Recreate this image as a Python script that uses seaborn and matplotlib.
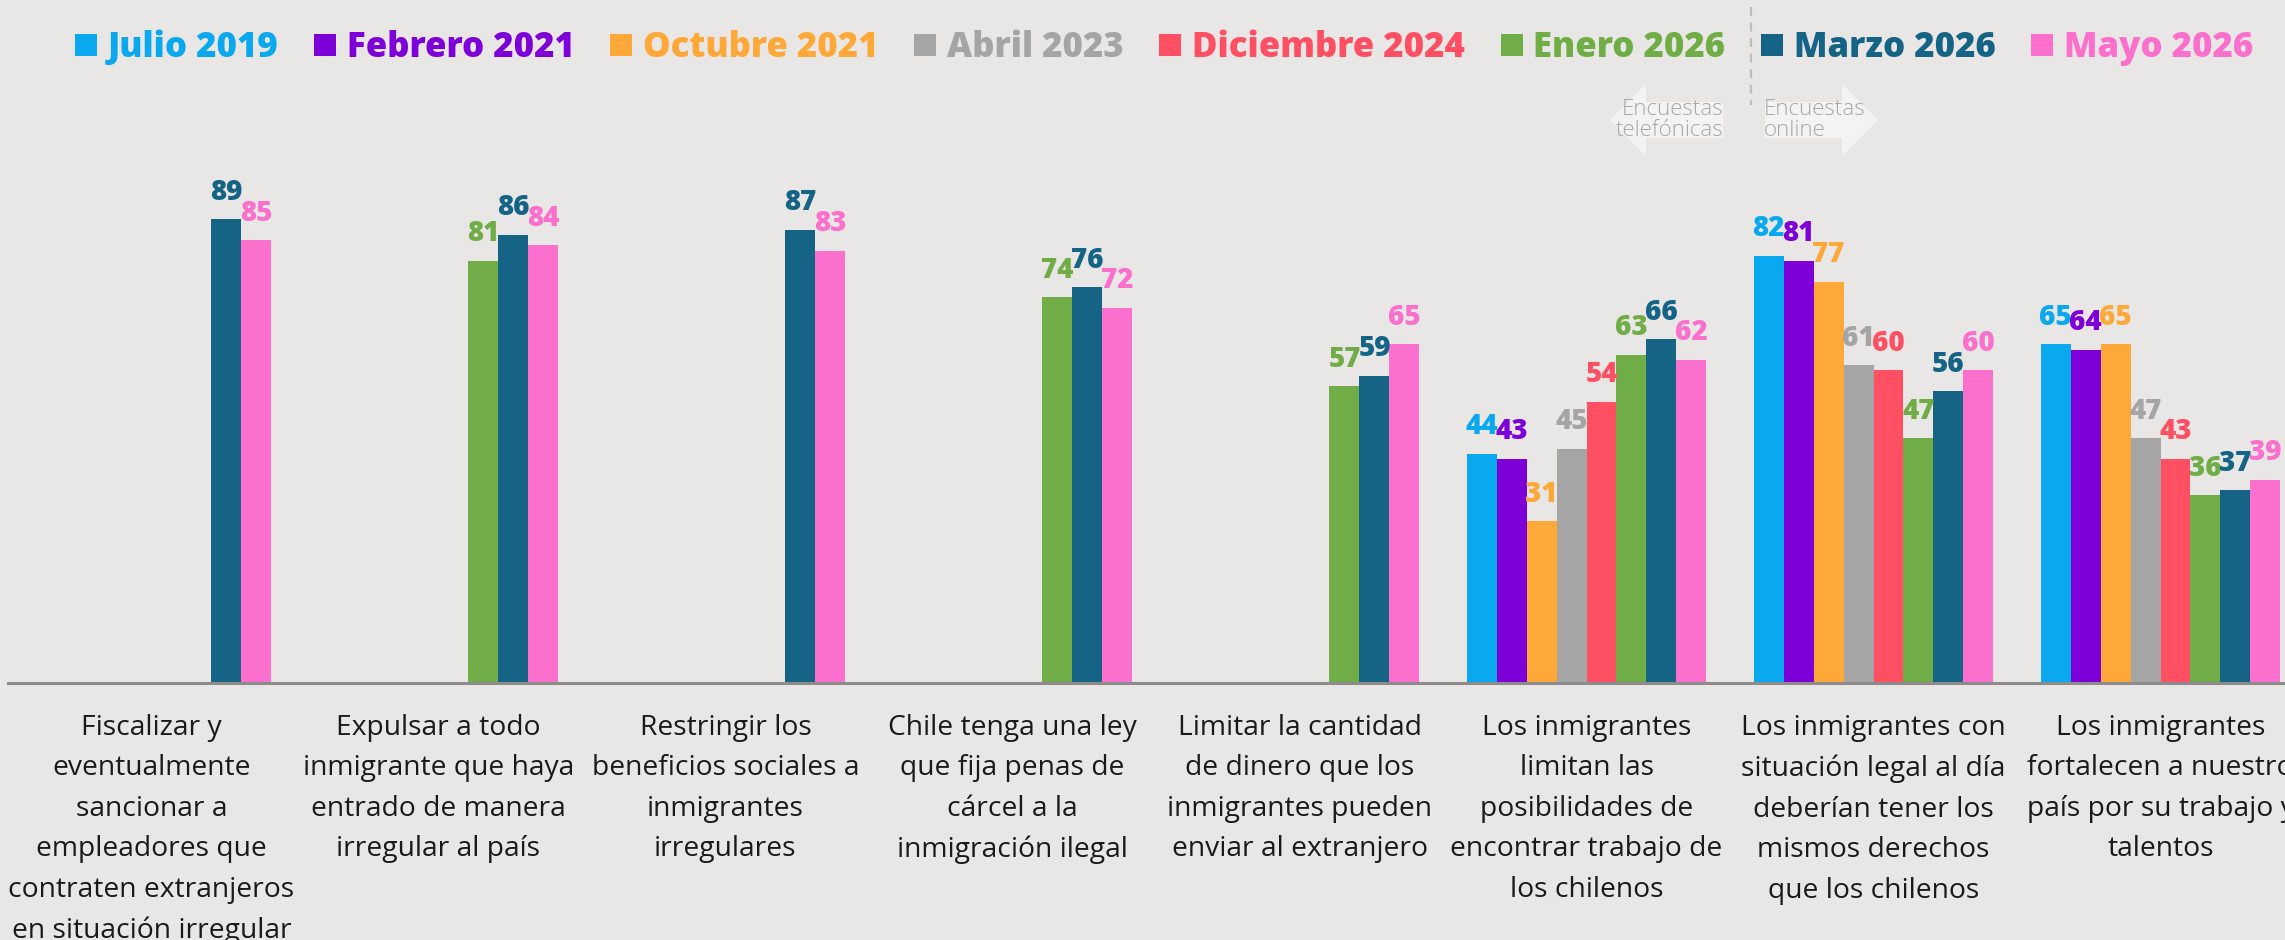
import numpy as np
import pandas as pd
import matplotlib
matplotlib.use("Agg")
import matplotlib.pyplot as plt
from matplotlib.lines import Line2D
from matplotlib.patches import Polygon
import seaborn as sns

# ---------------- data ----------------
categories = [
    "Fiscalizar y\neventualmente\nsancionar a\nempleadores que\ncontraten extranjeros\nen situación irregular",
    "Expulsar a todo\ninmigrante que haya\nentrado de manera\nirregular al país",
    "Restringir los\nbeneficios sociales a\ninmigrantes\nirregulares",
    "Chile tenga una ley\nque fija penas de\ncárcel a la\ninmigración ilegal",
    "Limitar la cantidad\nde dinero que los\ninmigrantes pueden\nenviar al extranjero",
    "Los inmigrantes\nlimitan las\nposibilidades de\nencontrar trabajo de\nlos chilenos",
    "Los inmigrantes con\nsituación legal al día\ndeberían tener los\nmismos derechos\nque los chilenos",
    "Los inmigrantes\nfortalecen a nuestro\npaís por su trabajo y\ntalentos",
]
series = ["Julio 2019", "Febrero 2021", "Octubre 2021", "Abril 2023",
          "Diciembre 2024", "Enero 2026", "Marzo 2026", "Mayo 2026"]
colors = ["#0aa8ee", "#7e00d8", "#ffa83a", "#a5a5a5",
          "#ff4f62", "#70ad47", "#156486", "#fa70cc"]

julio_2019     = [None, None, None, None, None, 44, 82, 65]
febrero_2021   = [None, None, None, None, None, 43, 81, 64]
octubre_2021   = [None, None, None, None, None, 31, 77, 65]
abril_2023     = [None, None, None, None, None, 45, 61, 47]
diciembre_2024 = [None, None, None, None, None, 54, 60, 43]
enero_2026     = [None, 81, None, 74, 57, 63, 47, 36]
marzo_2026     = [89, 86, 87, 76, 59, 66, 56, 37]
mayo_2026      = [85, 84, 83, 72, 65, 62, 60, 39]
values = [julio_2019, febrero_2021, octubre_2021, abril_2023,
          diciembre_2024, enero_2026, marzo_2026, mayo_2026]

rows = []
for s, vals in zip(series, values):
    for c, v in zip(categories, vals):
        if v is not None:
            rows.append({"cat": c, "serie": s, "valor": v})
df = pd.DataFrame(rows)

# ---------------- style ----------------
BG = "#e9e7e5"
AXIS = "#8c8c8c"
W, H = 2285, 940
sns.set_theme(style="white")
plt.rcParams["font.family"] = ["Open Sans", "DejaVu Sans"]

fig = plt.figure(figsize=(W / 100, H / 100), dpi=100, facecolor=BG)
ax = fig.add_axes([8 / W, (H - 683) / H, 2296 / W, 521 / H])
ax.set_facecolor(BG)

sns.barplot(data=df, x="cat", y="valor", hue="serie", order=categories,
            hue_order=series, palette=colors, saturation=1, width=0.836,
            dodge=True, legend=False, linewidth=0, ax=ax)

ax.set_ylim(0, 100)
ax.set_xlim(-0.5, len(categories) - 0.5)
ax.set_xlabel("")
ax.set_ylabel("")
ax.set_yticks([])
for side in ["left", "right", "top"]:
    ax.spines[side].set_visible(False)
ax.spines["bottom"].set_color(AXIS)
ax.spines["bottom"].set_linewidth(2.2)

ax.set_xticks(range(len(categories)))
ax.set_xticklabels(categories, fontsize=20.3, color="#1a1a1a", linespacing=1.6)
ax.tick_params(axis="x", which="major", length=0, pad=22)
ax.set_xticks(np.arange(-0.5, len(categories)), minor=True)
ax.tick_params(axis="x", which="minor", length=9, width=1.8, color=AXIS, direction="out")

# value labels
for cont, col in zip(ax.containers, colors):
    ax.bar_label(cont, fmt="%.0f", padding=9, color=col, fontsize=20,
                 fontweight="heavy", clip_on=False)

# legend
handles = [Line2D([], [], marker="s", linestyle="none", markersize=16,
                  markerfacecolor=c, markeredgewidth=0) for c in colors]
fig.legend(handles, series, ncol=8, loc="center", bbox_to_anchor=(1164 / W, 1 - 48 / H),
           frameon=False, labelcolor=colors, handlelength=0.65, handletextpad=0.3,
           columnspacing=1.02, prop={"weight": "heavy", "size": 25})


def px(x, y):
    return (x / W, 1 - y / H)


# survey-mode annotation
fig.add_artist(Line2D([1751 / W, 1751 / W], [1 - 7 / H, 1 - 105 / H], color="#bdbdbd",
                      lw=1.6, linestyle=(0, (4, 3))))
left_arrow = [px(1610, 120), px(1646, 84), px(1646, 102), px(1723, 102),
              px(1723, 138), px(1646, 138), px(1646, 156)]
right_arrow = [px(1765, 102), px(1842, 102), px(1842, 84), px(1878, 120),
               px(1842, 156), px(1842, 138), px(1765, 138)]
for poly in (left_arrow, right_arrow):
    fig.add_artist(Polygon(poly, closed=True, transform=fig.transFigure,
                           facecolor="#f3f3f3", edgecolor="none", zorder=1))
fig.text(1723 / W, 1 - 120 / H, "Encuestas\ntelefónicas", ha="right", va="center",
         fontsize=16, fontweight="light", color="#a8a8a8", linespacing=1.0, zorder=2)
fig.text(1764 / W, 1 - 120 / H, "Encuestas\nonline", ha="left", va="center",
         fontsize=16, fontweight="light", color="#a8a8a8", linespacing=1.0, zorder=2)

fig.savefig("out.png", dpi=100, facecolor=BG)
